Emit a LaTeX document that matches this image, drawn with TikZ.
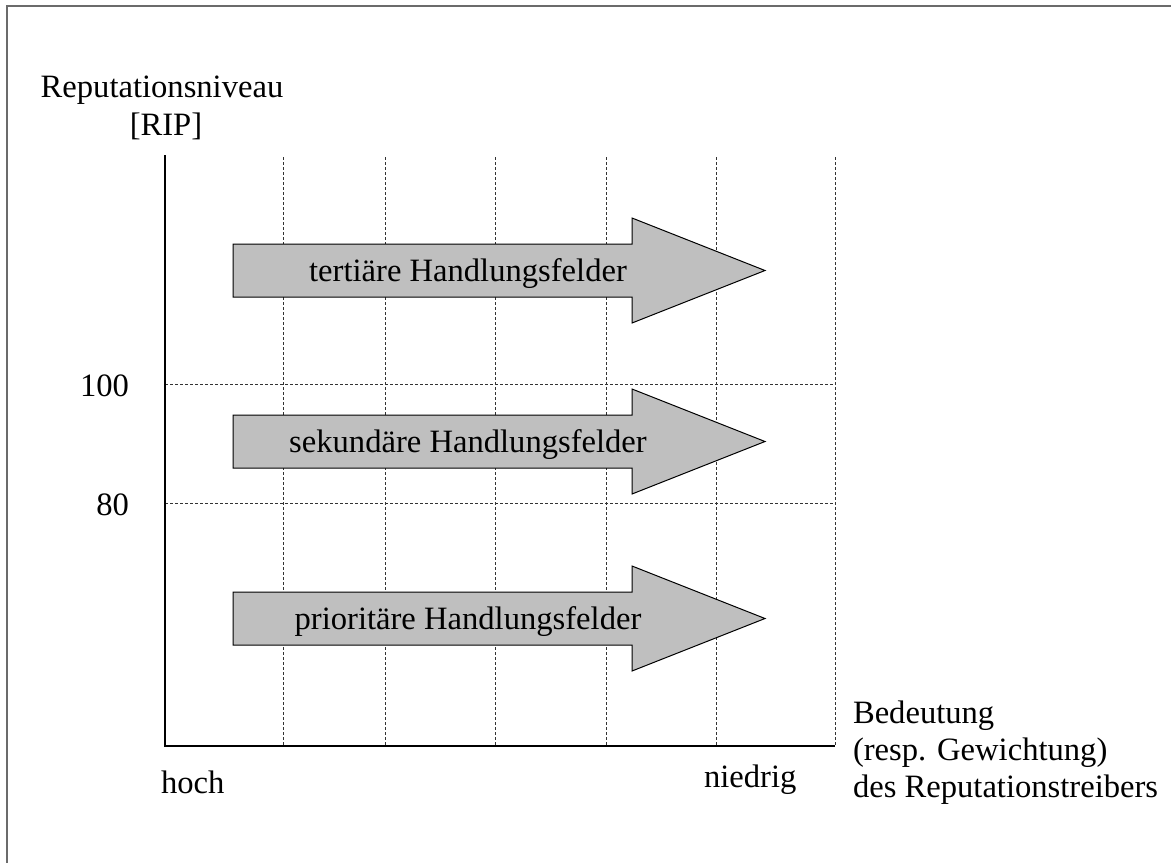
\documentclass[tikz,border=0pt]{standalone}
\usepackage{fontspec}
\setmainfont{Liberation Serif}
\begin{document}
\begin{tikzpicture}[x=0.5pt,y=-0.5pt,
  every node/.style={inner sep=0pt,outer sep=0pt,font=\fontsize{16.3}{19}\selectfont},
  frameline/.style={draw=black!58,line width=1pt},
  axisline/.style={draw=black,line width=1.1pt},
  gridline/.style={draw=black!80,line width=0.45pt,dash pattern=on 1.5pt off 1pt},
  fieldarrow/.style={draw=black,line width=0.5pt,fill=black!25,line join=miter}]
\useasboundingbox (0,0) rectangle (1171,863);

% open frame: top and left edges
\coordinate (fTL) at (6.5,6);
\coordinate (fTR) at (1171,6);
\coordinate (fBL) at (6.5,863);
\draw[frameline] (fTR) -- (fTL) -- (fBL);

% grid
\foreach \gx [count=\i] in {283,385,495,606,716,835}{
  \coordinate (vt\i) at (\gx,157);
  \coordinate (vb\i) at (\gx,746);
  \draw[gridline] (vt\i) -- (vb\i);
}
\coordinate (h1l) at (165,384); \coordinate (h1r) at (835,384);
\coordinate (h2l) at (165,503); \coordinate (h2r) at (835,503);
\draw[gridline] (h1l) -- (h1r);
\draw[gridline] (h2l) -- (h2r);

% axes
\coordinate (ytop) at (165,155);
\coordinate (origin) at (165,746);
\coordinate (xend) at (835,746);
\draw[axisline] (ytop) -- (origin) -- (xend);

% axis labels
\node[anchor=base] (ylab1) at (162,97) {Reputationsniveau};
\node[anchor=base] (ylab2) at (166,135) {[RIP]};
\node[anchor=base east] (t100) at (129,396) {100};
\node[anchor=base east] (t80) at (129,515) {80};
\node[anchor=base west] (hoch) at (161,793) {hoch};
\node[anchor=base west] (niedrig) at (704,787) {niedrig};
\node[anchor=base west] (xlab1) at (853,723) {Bedeutung};
\node[anchor=base west] (xlab2) at (853,760) {(resp. Gewichtung)};
\node[anchor=base west] (xlab3) at (853,797) {des Reputationstreibers};

% block arrows for the three fields of action
\foreach \cy/\txt/\nm in {270.5/tertiäre Handlungsfelder/tert,
                          441.5/sekundäre Handlungsfelder/sek,
                          618.5/prioritäre Handlungsfelder/prio}{
  \draw[fieldarrow] (233,{\cy-26.5}) -- (632,{\cy-26.5}) -- (632,{\cy-52.5})
    -- (765,\cy) -- (632,{\cy+52.5}) -- (632,{\cy+26.5}) -- (233,{\cy+26.5}) -- cycle;
  \node[anchor=base] (\nm) at (468,{\cy+10.5}) {\txt};
}
\end{tikzpicture}
\end{document}
